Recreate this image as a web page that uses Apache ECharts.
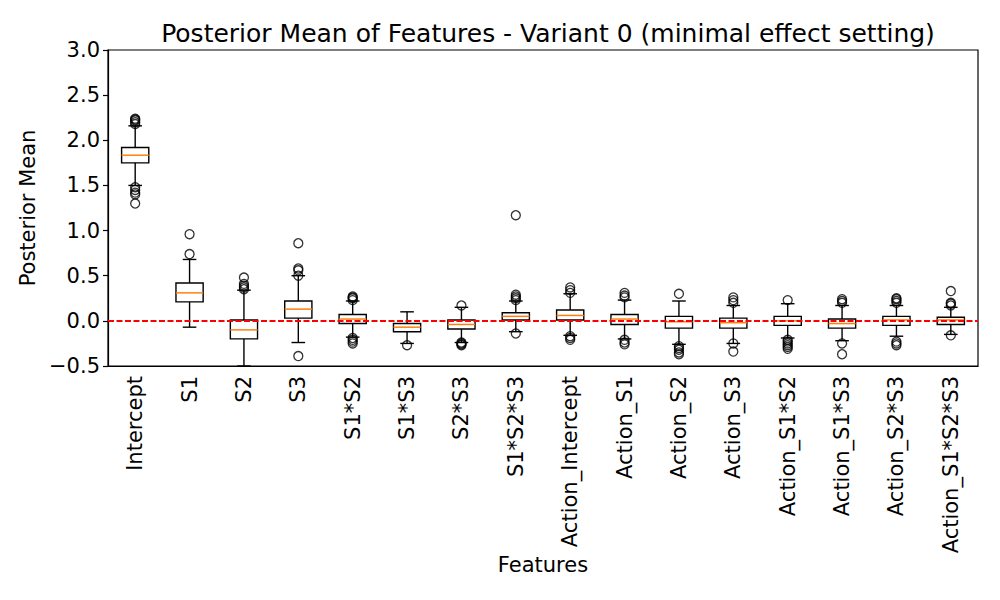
<!DOCTYPE html>
<html>
<head>
<meta charset="utf-8">
<script src="https://cdn.jsdelivr.net/npm/echarts@6/dist/echarts.min.js"></script>
<style>
  html, body { margin: 0; padding: 0; background: #fff; }
  #chart { width: 1000px; height: 600px; }
</style>
</head>
<body>
<div id="chart"></div>
<script>
var features = ['Intercept', 'S1', 'S2', 'S3', 'S1*S2', 'S1*S3', 'S2*S3', 'S1*S2*S3',
  'Action_Intercept', 'Action_S1', 'Action_S2', 'Action_S3', 'Action_S1*S2', 'Action_S1*S3',
  'Action_S2*S3', 'Action_S1*S2*S3'];

var whiskerLow = [1.50, -0.07, -0.50, -0.24, -0.18, -0.25, -0.24, -0.12, -0.16, -0.20, -0.26, -0.25, -0.19, -0.22, -0.17, -0.15];
var q1 = [1.75, 0.21, -0.20, 0.03, -0.03, -0.12, -0.09, 0.01, 0.01, -0.04, -0.08, -0.08, -0.05, -0.08, -0.05, -0.04];
var medians = [1.835, 0.31, -0.10, 0.13, 0.02, -0.07, -0.04, 0.05, 0.06, 0.02, -0.01, -0.02, 0.00, -0.03, 0.01, 0.01];
var q3 = [1.92, 0.42, 0.01, 0.22, 0.07, -0.03, 0.01, 0.09, 0.12, 0.07, 0.05, 0.03, 0.05, 0.02, 0.05, 0.04];
var whiskerHigh = [2.16, 0.68, 0.34, 0.50, 0.22, 0.10, 0.15, 0.22, 0.30, 0.23, 0.22, 0.17, 0.19, 0.17, 0.17, 0.15];

// fliers per feature, same order as features
var outliers = [
  [2.18, 2.20, 2.22, 2.23, 2.24, 1.48, 1.45, 1.42, 1.40, 1.30],
  [0.74, 0.96],
  [0.35, 0.37, 0.39, 0.41, 0.48],
  [0.50, 0.56, 0.58, 0.86, -0.39],
  [0.23, 0.25, 0.26, 0.27, -0.19, -0.21, -0.23, -0.25],
  [-0.27],
  [0.17, -0.24, -0.25, -0.26, -0.27],
  [0.23, 0.25, 0.27, 0.29, 1.17, -0.14],
  [0.31, 0.34, 0.37, -0.17, -0.19, -0.21],
  [0.26, 0.28, 0.31, -0.21, -0.24, -0.26],
  [0.30, -0.28, -0.30, -0.32, -0.35, -0.37],
  [0.20, 0.23, 0.26, -0.25, -0.34],
  [0.23, -0.21, -0.23, -0.25, -0.27, -0.29, -0.31],
  [0.20, 0.22, 0.24, -0.25, -0.37],
  [0.20, 0.22, 0.24, 0.25, -0.23, -0.25, -0.27],
  [0.17, 0.19, 0.20, 0.33, -0.16]
];

var yTicks = { min: -0.5, max: 3.0, interval: 0.5 };

(function() {
  var ink = '#000000';
  var font = 'DejaVu Sans';

  var boxData = features.map(function(f, i) {
    return [i, whiskerLow[i], q1[i], medians[i], q3[i], whiskerHigh[i]];
  });
  var flierData = [];
  outliers.forEach(function(list, i) {
    list.forEach(function(v) { flierData.push([i, v]); });
  });

  function renderBox(params, api) {
    var x = api.value(0);
    var lo = api.coord([x, api.value(1)]);
    var b1 = api.coord([x, api.value(2)]);
    var md = api.coord([x, api.value(3)]);
    var b3 = api.coord([x, api.value(4)]);
    var hi = api.coord([x, api.value(5)]);
    var half = api.size([1, 0])[0] * 0.25;
    var cap = half / 2;
    var cx = lo[0];
    var st = { stroke: ink, lineWidth: 1.4, fill: null };
    return {
      type: 'group',
      children: [
        { type: 'line', shape: { x1: cx, y1: lo[1], x2: cx, y2: b1[1] }, style: st },
        { type: 'line', shape: { x1: cx, y1: b3[1], x2: cx, y2: hi[1] }, style: st },
        { type: 'line', shape: { x1: cx - cap, y1: lo[1], x2: cx + cap, y2: lo[1] }, style: st },
        { type: 'line', shape: { x1: cx - cap, y1: hi[1], x2: cx + cap, y2: hi[1] }, style: st },
        { type: 'rect', shape: { x: cx - half, y: b3[1], width: half * 2, height: b1[1] - b3[1] }, style: st },
        { type: 'line', shape: { x1: cx - half, y1: md[1], x2: cx + half, y2: md[1] },
          style: { stroke: '#ff7f0e', lineWidth: 1.5 } }
      ]
    };
  }

  var chart = echarts.init(document.getElementById('chart'), null, { renderer: 'svg' });
  chart.setOption({
    animation: false,
    textStyle: { fontFamily: font },
    title: {
      text: 'Posterior Mean of Features - Variant 0 (minimal effect setting)',
      left: 543,
      textAlign: 'center',
      top: 16,
      textStyle: { fontFamily: font, fontSize: 25, fontWeight: 'normal', color: ink }
    },
    grid: {
      left: 108,
      right: 22,
      top: 50,
      bottom: 234,
      show: true,
      borderColor: ink,
      borderWidth: 1.2,
      containLabel: false
    },
    xAxis: {
      type: 'category',
      data: features,
      boundaryGap: true,
      name: 'Features',
      nameLocation: 'middle',
      nameGap: 188,
      nameMoveOverlap: false,
      nameTextStyle: { fontFamily: font, fontSize: 21, color: ink },
      axisLine: { onZero: false, lineStyle: { color: ink, width: 1.2 } },
      axisTick: { alignWithLabel: true, length: 5, lineStyle: { color: ink, width: 1.2 } },
      axisLabel: { rotate: 90, interval: 0, margin: 10, fontFamily: font, fontSize: 21, color: ink },
      splitLine: { show: false }
    },
    yAxis: {
      type: 'value',
      min: yTicks.min,
      max: yTicks.max,
      interval: yTicks.interval,
      name: 'Posterior Mean',
      nameLocation: 'middle',
      nameRotate: 90,
      nameGap: 66,
      nameTextStyle: { fontFamily: font, fontSize: 21, color: ink },
      axisLine: { show: true, onZero: false, lineStyle: { color: ink, width: 1.2 } },
      axisTick: { show: true, length: 5, lineStyle: { color: ink, width: 1.2 } },
      axisLabel: {
        margin: 8, fontFamily: font, fontSize: 21, color: ink,
        formatter: function(v) { return v.toFixed(1).replace('-', '\u2212'); }
      },
      splitLine: { show: false }
    },
    series: [
      {
        type: 'custom',
        renderItem: renderBox,
        data: boxData,
        encode: { x: 0, y: [1, 2, 3, 4, 5] },
        clip: true,
        z: 2
      },
      {
        type: 'scatter',
        data: flierData,
        symbol: 'circle',
        symbolSize: 9,
        itemStyle: { color: 'rgba(0,0,0,0)', borderColor: ink, borderWidth: 1.3 },
        z: 3,
        markLine: {
          silent: true,
          symbol: 'none',
          label: { show: false },
          lineStyle: { color: '#ff0000', type: [6, 2.5], width: 2.1 },
          data: [{ yAxis: 0 }],
          z: 5
        }
      }
    ]
  });
  window.addEventListener('resize', function() { chart.resize(); });
})();
</script>
</body>
</html>
